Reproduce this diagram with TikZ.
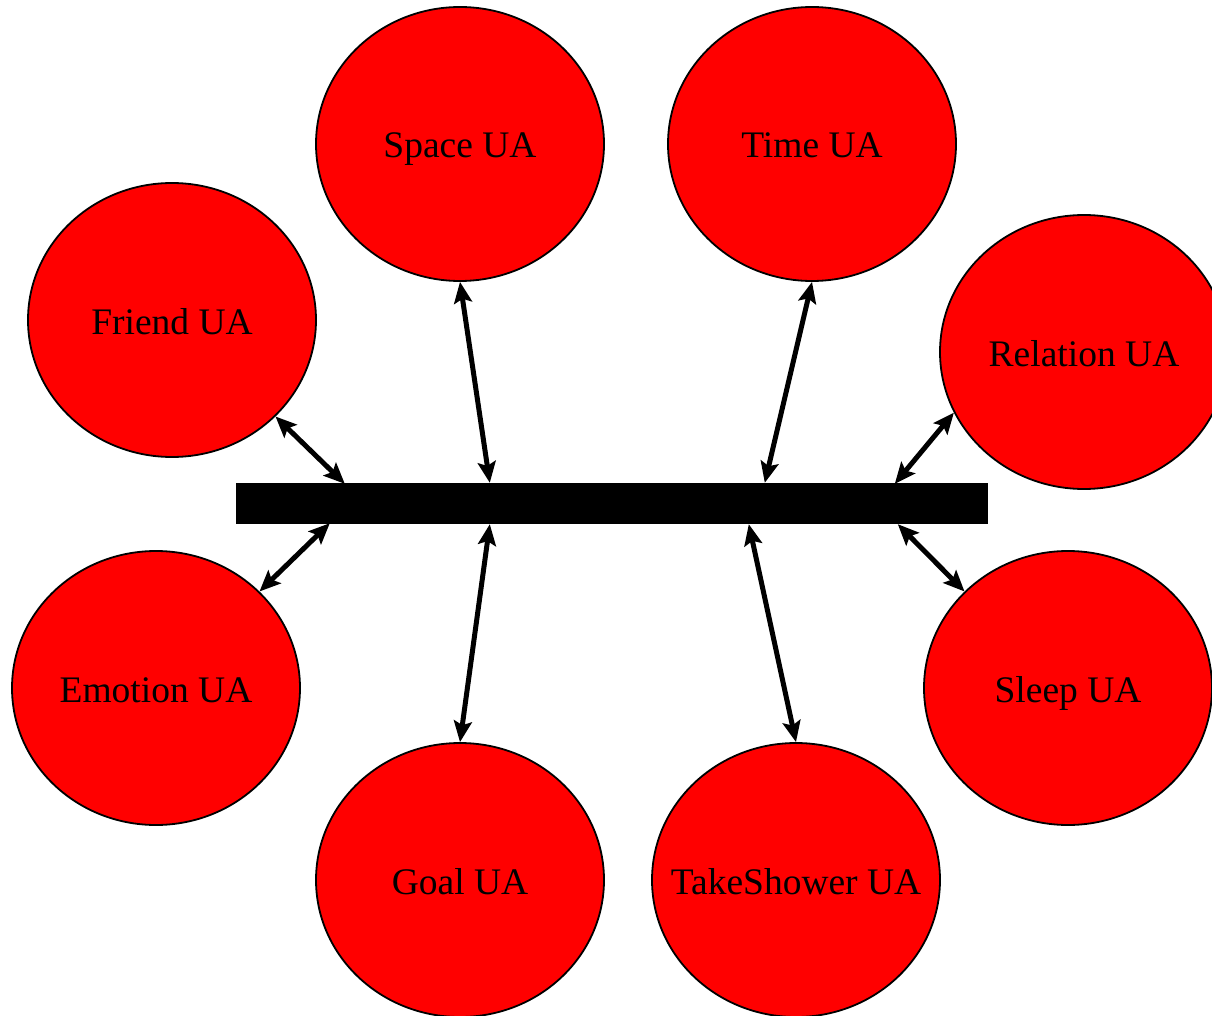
\documentclass[tikz,border=0pt]{standalone}
\usepackage{fontspec}
\setmainfont{Liberation Serif}
\usetikzlibrary{shapes.geometric,arrows.meta,calc}
\tikzset{
  ua/.style={ellipse, draw=black, line width=1.8pt, fill=red, minimum width=288pt, minimum height=274pt, inner sep=0pt},
  ualabel/.style={font=\fontsize{37.5}{40}\selectfont, inner sep=0pt, anchor=base},
  link/.style={line width=5pt, {Stealth[length=21pt,width=18pt,inset=4pt]}-{Stealth[length=21pt,width=18pt,inset=4pt]}},
  barbox/.style={rectangle, fill=black, draw=none, minimum width=752pt, minimum height=41pt, inner sep=0pt}
}
\begin{document}
\begin{tikzpicture}[x=1pt,y=-1pt]
\useasboundingbox (0,0) rectangle (1212,1016);
\node[barbox] (bar) at (612,503.5) {};
\node[ua] (space) at (460,144) {};
\node[ua] (time) at (812,144) {};
\node[ua] (friend) at (172,320) {};
\node[ua] (relation) at (1084,352) {};
\node[ua] (emotion) at (156,688) {};
\node[ua] (sleep) at (1068,688) {};
\node[ua] (goal) at (460,880) {};
\node[ua] (shower) at (796,880) {};
\node[ualabel] (tspace) at ($(space.center)+(0,14)$) {Space UA};
\node[ualabel] (ttime) at ($(time.center)+(0,14)$) {Time UA};
\node[ualabel] (tfriend) at ($(friend.center)+(0,14)$) {Friend UA};
\node[ualabel] (trelation) at ($(relation.center)+(0,14)$) {Relation UA};
\node[ualabel] (temotion) at ($(emotion.center)+(0,14)$) {Emotion UA};
\node[ualabel] (tsleep) at ($(sleep.center)+(0,14)$) {Sleep UA};
\node[ualabel] (tgoal) at ($(goal.center)+(0,14)$) {Goal UA};
\node[ualabel] (tshower) at ($(shower.center)+(0,14)$) {TakeShower UA};
\coordinate (bf) at ($(bar.north west)+(109,1)$);
\coordinate (bs) at ($(bar.north west)+(254,0)$);
\coordinate (bt) at ($(bar.north west)+(529,0)$);
\coordinate (br) at ($(bar.north west)+(659,1)$);
\coordinate (be) at ($(bar.south west)+(94,-1)$);
\coordinate (bg) at ($(bar.south west)+(254,0)$);
\coordinate (bk) at ($(bar.south west)+(513,0)$);
\coordinate (bl) at ($(bar.south west)+(662,0)$);
\draw[link] (friend.-43) -- (bf);
\draw[link] (space.south) -- (bs);
\draw[link] (time.south) -- (bt);
\draw[link] (relation.-155.8) -- (br);
\draw[link] (emotion.43) -- (be);
\draw[link] (goal.north) -- (bg);
\draw[link] (shower.north) -- (bk);
\draw[link] (sleep.137) -- (bl);
\end{tikzpicture}
\end{document}
